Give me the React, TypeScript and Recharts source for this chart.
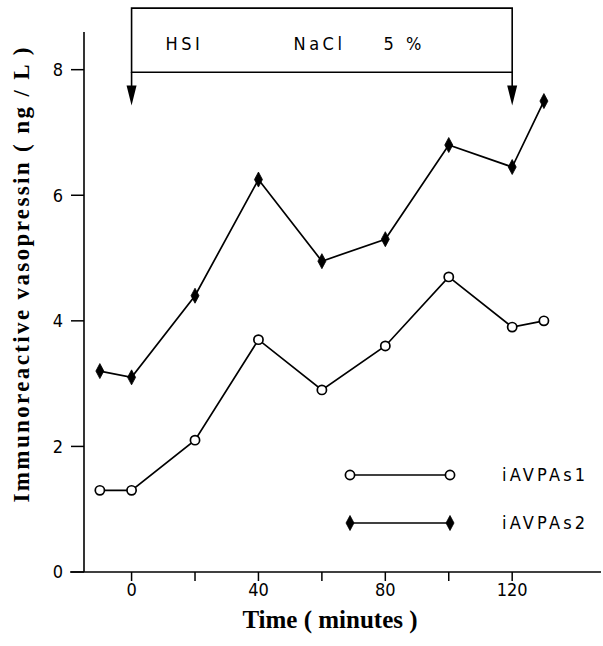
import { LineChart, Line, XAxis, YAxis, ReferenceArea, ReferenceLine, ReferenceDot, Legend } from "recharts";

// sampling times (minutes) and the two vasopressin series (ng/L)
const times = [-10, 0, 20, 40, 60, 80, 100, 120, 130];
const iAVPAs1 = [1.3, 1.3, 2.1, 3.7, 2.9, 3.6, 4.7, 3.9, 4.0];
const iAVPAs2 = [3.2, 3.1, 4.4, 6.25, 4.95, 5.3, 6.8, 6.45, 7.5];

const xTicks = [0, 20, 40, 60, 80, 100, 120];
const xTickLabels = ["0", "", "40", "", "80", "", "120"];
const yTicks = [0, 2, 4, 6, 8];

// hypertonic saline infusion period shown in the box above the plot
const infusionStart = 0;
const infusionEnd = 120;
const infusionText = ["HSI", "NaCl", "5 %"];

const data = times.map((t, i) => ({ t, s1: iAVPAs1[i], s2: iAVPAs2[i] }));

const tickFont = "'DejaVu Sans Condensed', 'Liberation Sans Narrow', 'DejaVu Sans', sans-serif";
const titleFont = "'Liberation Serif', 'Times New Roman', serif";

function circleMark(cx: number, cy: number, key?: string) {
  return <circle key={key} cx={cx} cy={cy} r={4.6} fill="#fff" stroke="#000" strokeWidth={1.7} />;
}

function diamondMark(cx: number, cy: number, key?: string) {
  return (
    <polygon
      key={key}
      points={`${cx},${cy - 7.5} ${cx + 4},${cy} ${cx},${cy + 7.5} ${cx - 4},${cy}`}
      fill="#000"
      stroke="#000"
      strokeWidth={0.8}
    />
  );
}

function OpenDot(props: any) {
  const { cx, cy, index } = props;
  if (cx == null || cy == null) return null;
  return circleMark(cx, cy, `c${index}`);
}

function FilledDot(props: any) {
  const { cx, cy, index } = props;
  if (cx == null || cy == null) return null;
  return diamondMark(cx, cy, `d${index}`);
}

function LegendContent(props: any) {
  const payload = props.payload || [];
  return (
    <svg width={262} height={80} style={{ display: "block" }}>
      {payload.map((entry: any, i: number) => {
        const y = 15 + i * 48;
        const mark = entry.dataKey === "s1" ? circleMark : diamondMark;
        return (
          <g key={entry.value}>
            <line x1={10} x2={110} y1={y} y2={y} stroke="#000" strokeWidth={1.6} />
            {mark(10, y)}
            {mark(110, y)}
            <text x={162} y={y + 6} fontFamily={tickFont} fontSize={18} letterSpacing={3.2} fill="#000">
              {entry.value}
            </text>
          </g>
        );
      })}
    </svg>
  );
}

function PhaseLabel(props: any) {
  const vb = props.viewBox || {};
  const offsets = [34, 162, 252];
  return (
    <g>
      {infusionText.map((s, i) => (
        <text
          key={s}
          x={vb.x + offsets[i]}
          y={vb.y + 42}
          fontFamily={tickFont}
          fontSize={18}
          letterSpacing={3.5}
          fill="#000"
          style={{ whiteSpace: "pre" }}
        >
          {s}
        </text>
      ))}
    </g>
  );
}

function ArrowHead(props: any) {
  const { cx, cy } = props;
  return <polygon points={`${cx - 5},${cy - 20} ${cx + 5},${cy - 20} ${cx},${cy}`} fill="#000" />;
}

export default function App() {
  return (
    <div style={{ position: "absolute", left: 0, top: 0, width: 603, height: 646, background: "#fff" }}>
      <LineChart width={603} height={646} data={data} margin={{ top: 32, right: 2, left: 24, bottom: 44 }}>
        <XAxis
          type="number"
          dataKey="t"
          domain={[-15, 148]}
          ticks={xTicks}
          tickFormatter={(v: number) => xTickLabels[xTicks.indexOf(v)] ?? ""}
          axisLine={false}
          tickLine={{ stroke: "#000", strokeWidth: 1.5 }}
          tickSize={9}
          tickMargin={2}
          tick={{ fill: "#000", fontSize: 18, fontFamily: tickFont }}
          allowDataOverflow
          height={30}
          label={() => (
            <text x={330} y={628} textAnchor="middle" fontFamily={titleFont} fontWeight="bold" fontSize={25} fill="#000">
              Time ( minutes )
            </text>
          )}
        />
        <YAxis
          type="number"
          domain={[0, 8.6]}
          ticks={yTicks}
          width={60}
          axisLine={{ stroke: "#000", strokeWidth: 1.6 }}
          tickLine={{ stroke: "#000", strokeWidth: 1.5 }}
          tickSize={13}
          tickMargin={8}
          tick={{ fill: "#000", fontSize: 18, fontFamily: tickFont }}
          allowDataOverflow
          label={() => (
            <text
              transform="translate(29,275) rotate(-90)"
              textAnchor="middle"
              fontFamily={titleFont}
              fontWeight="bold"
              fontSize={23}
              textLength={455}
              lengthAdjust="spacing"
              fill="#000"
            >
              Immunoreactive vasopressin ( ng / L )
            </text>
          )}
        />
        <ReferenceLine
          segment={[{ x: -19.4, y: 0 }, { x: 148, y: 0 }]}
          stroke="#000"
          strokeWidth={1.6}
          ifOverflow="visible"
        />
        <ReferenceArea
          x1={infusionStart}
          x2={infusionEnd}
          y1={7.96}
          y2={8.98}
          fill="none"
          stroke="#000"
          strokeWidth={1.6}
          fillOpacity={0}
          ifOverflow="visible"
          label={PhaseLabel}
        />
        {[infusionStart, infusionEnd].map((x) => (
          <ReferenceLine
            key={`stem${x}`}
            segment={[{ x, y: 7.96 }, { x, y: 7.6 }]}
            stroke="#000"
            strokeWidth={1.6}
            ifOverflow="visible"
          />
        ))}
        {[infusionStart, infusionEnd].map((x) => (
          <ReferenceDot key={`head${x}`} x={x} y={7.43} ifOverflow="visible" shape={ArrowHead} />
        ))}
        <Legend
          layout="vertical"
          align="center"
          verticalAlign="middle"
          wrapperStyle={{ left: 340, top: 460, width: 262 }}
          content={LegendContent}
        />
        <Line
          name="iAVPAs1"
          dataKey="s1"
          stroke="#000"
          strokeWidth={1.7}
          dot={OpenDot}
          activeDot={false}
          isAnimationActive={false}
        />
        <Line
          name="iAVPAs2"
          dataKey="s2"
          stroke="#000"
          strokeWidth={1.7}
          dot={FilledDot}
          activeDot={false}
          isAnimationActive={false}
        />
      </LineChart>
    </div>
  );
}
